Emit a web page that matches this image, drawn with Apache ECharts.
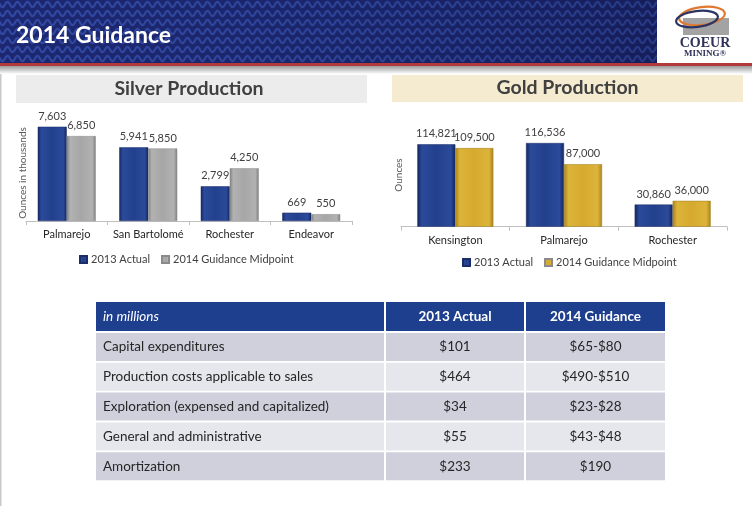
<!DOCTYPE html>
<html>
<head>
<meta charset="utf-8">
<script src="https://cdn.jsdelivr.net/npm/echarts@6/dist/echarts.min.js"></script>
<style>
html,body{margin:0;padding:0;background:#ffffff;}
#c{width:752px;height:506px;}
</style>
</head>
<body>
<div id="c"></div>
<script>
// ---- data ----
var pageTitle = '2014 Guidance';
var silverTitle = 'Silver Production';
var goldTitle = 'Gold Production';
var silverCats = ['Palmarejo', 'San Bartolomé', 'Rochester', 'Endeavor'];
var silver2013 = [7603, 5941, 2799, 669];
var silver2014 = [6850, 5850, 4250, 550];
var goldCats = ['Kensington', 'Palmarejo', 'Rochester'];
var gold2013 = [114821, 116536, 30860];
var gold2014 = [109500, 87000, 36000];
var seriesNames = ['2013 Actual', '2014 Guidance Midpoint'];
var silverAxisName = 'Ounces in thousands';
var goldAxisName = 'Ounces';
var tableHeader = ['in millions', '2013 Actual', '2014 Guidance'];
var tableItems = ['Capital expenditures', 'Production costs applicable to sales', 'Exploration (expensed and capitalized)', 'General and administrative', 'Amortization'];
var tableActual = ['$101', '$464', '$34', '$55', '$233'];
var tableGuidance = ['$65-$80', '$490-$510', '$23-$28', '$43-$48', '$190'];

// ---- styles ----
var FONT = 'Lato';
function hGrad(edge, mid, hi) {
  return new echarts.graphic.LinearGradient(0, 0, 1, 0, [
    {offset: 0, color: edge}, {offset: 0.12, color: hi}, {offset: 0.5, color: mid},
    {offset: 0.88, color: hi}, {offset: 1, color: edge}
  ]);
}
var blueFill = hGrad('#14265e', '#22408c', '#2b4a9a');
var greyFill = hGrad('#7f7f7f', '#a6a6a6', '#b2b2b2');
var goldFill = hGrad('#a9841c', '#d5aa2e', '#dcb43a');

// header pattern
var pat = document.createElement('canvas');
pat.width = 10; pat.height = 9;
var pc = pat.getContext('2d');
pc.fillStyle = '#1b2368'; pc.fillRect(0, 0, 10, 9);
pc.strokeStyle = '#3249a0'; pc.lineWidth = 2.2;
for (var row = -1; row <= 1; row++) {
  pc.beginPath();
  for (var x = -1; x <= 11; x += 0.5) {
    var y = row * 9 + 4.5 + 2.6 * Math.sin(2 * Math.PI * x / 10);
    if (x === -1) pc.moveTo(x, y); else pc.lineTo(x, y);
  }
  pc.stroke();
}

var fmt = function (p) { return p.value.toLocaleString('en-US'); };
var labelStyle = {show: true, position: 'top', distance: 5, formatter: fmt, fontSize: 11, color: '#404040', fontFamily: FONT};

function xAx(idx, cats, margin) {
  return {
    type: 'category', gridIndex: idx, data: cats,
    axisLine: {lineStyle: {color: '#bfbfbf', width: 1}},
    axisTick: {show: true, length: 4, lineStyle: {color: '#bfbfbf'}},
    axisLabel: {interval: 0, fontSize: 11, color: '#262626', fontFamily: FONT, margin: margin}
  };
}
function yAx(idx, max) {
  return {
    type: 'value', gridIndex: idx, min: 0, max: max,
    axisLine: {show: false}, axisTick: {show: false}, axisLabel: {show: false}, splitLine: {show: false}
  };
}

// table graphics
var tableEls = [];
var colX = [96, 386, 526];
var colW = [288, 138, 139];
var headTop = 302, headH = 29, rowTop = 333, rowPitch = 29.8, rowH = 28;
for (var c = 0; c < 3; c++) {
  tableEls.push({type: 'rect', shape: {x: colX[c], y: headTop, width: colW[c], height: headH}, style: {fill: '#1e3f8e'}});
  tableEls.push({type: 'text', x: c === 0 ? colX[c] + 7 : colX[c] + colW[c] / 2, y: headTop + headH / 2,
    style: {text: tableHeader[c], fill: '#ffffff', align: c === 0 ? 'left' : 'center', verticalAlign: 'middle',
      font: (c === 0 ? 'italic 13.5px ' : 'bold 13.5px ') + FONT}});
}
for (var r = 0; r < tableItems.length; r++) {
  var ry = rowTop + r * rowPitch;
  var fill = (r % 2 === 0) ? '#cfd0dc' : '#e6e7ed';
  var vals = [tableItems[r], tableActual[r], tableGuidance[r]];
  for (var c2 = 0; c2 < 3; c2++) {
    tableEls.push({type: 'rect', shape: {x: colX[c2], y: ry, width: colW[c2], height: rowH}, style: {fill: fill}});
    tableEls.push({type: 'text', x: c2 === 0 ? colX[c2] + 7 : colX[c2] + colW[c2] / 2, y: ry + rowH / 2,
      style: {text: vals[c2], fill: '#262626', align: c2 === 0 ? 'left' : 'center', verticalAlign: 'middle',
        font: '13.5px ' + FONT}});
  }
}

var legendCommon = {itemWidth: 7, itemHeight: 7, itemGap: 11, padding: 0, selectedMode: false, icon: 'rect',
  textStyle: {fontSize: 11, color: '#404040', fontFamily: FONT, padding: [0, 0, 0, -1]}};

var chart = echarts.init(document.getElementById('c'), null, {renderer: 'canvas'});
var option = {
  animation: false,
  backgroundColor: '#ffffff',
  grid: [
    {left: 26, top: 121.8, width: 326, height: 99.2, containLabel: false, outerBoundsMode: 'none'},
    {left: 401, top: 126.2, width: 326, height: 100.5, containLabel: false, outerBoundsMode: 'none'}
  ],
  xAxis: [xAx(0, silverCats, 8), xAx(1, goldCats, 8)],
  yAxis: [yAx(0, 8000), yAx(1, 140000)],
  legend: [
    Object.assign({left: 79, top: 254,
      data: [{name: seriesNames[0], itemStyle: {color: blueFill}}, {name: seriesNames[1], itemStyle: {color: greyFill}}]}, legendCommon),
    Object.assign({left: 462, top: 257,
      data: [{name: seriesNames[0], itemStyle: {color: blueFill}}, {name: seriesNames[1], itemStyle: {color: goldFill}}]}, legendCommon)
  ],
  series: [
    {name: seriesNames[0], type: 'bar', xAxisIndex: 0, yAxisIndex: 0, data: silver2013, barWidth: 29, barGap: '0%',
      itemStyle: {color: blueFill, borderColor: '#1a2d66', borderWidth: 0.5}, label: labelStyle},
    {name: seriesNames[1], type: 'bar', xAxisIndex: 0, yAxisIndex: 0, data: silver2014, barWidth: 29, barGap: '0%',
      itemStyle: {color: greyFill, borderColor: '#8a8a8a', borderWidth: 0.5}, label: labelStyle},
    {name: seriesNames[0], type: 'bar', xAxisIndex: 1, yAxisIndex: 1, data: gold2013, barWidth: 38, barGap: '0%',
      itemStyle: {color: blueFill, borderColor: '#1a2d66', borderWidth: 0.5}, label: labelStyle},
    {name: seriesNames[1], type: 'bar', xAxisIndex: 1, yAxisIndex: 1, data: gold2014, barWidth: 38, barGap: '0%',
      itemStyle: {color: goldFill, borderColor: '#9c7a18', borderWidth: 0.5}, label: labelStyle}
  ],
  graphic: [
    // header banner
    {type: 'rect', z: -1, shape: {x: 0, y: 0, width: 752, height: 63}, style: {fill: {image: pat, repeat: 'repeat'}}},
    {type: 'rect', z: -1, shape: {x: 0, y: 0, width: 752, height: 63},
      style: {fill: new echarts.graphic.LinearGradient(0, 0, 1, 0, [{offset: 0, color: 'rgba(40,70,170,0.12)'}, {offset: 1, color: 'rgba(5,8,40,0.3)'}])}},
    {type: 'rect', z: -1, shape: {x: 0, y: 63, width: 752, height: 3}, style: {fill: '#b23a3c'}},
    {type: 'rect', z: -1, shape: {x: 0, y: 66, width: 752, height: 8},
      style: {fill: new echarts.graphic.LinearGradient(0, 0, 0, 1, [{offset: 0, color: '#9a9a9a'}, {offset: 1, color: '#ffffff'}])}},
    {type: 'text', x: 16, y: 36, style: {text: pageTitle, fill: '#ffffff', font: 'bold 23px ' + FONT, verticalAlign: 'middle'}},
    // logo
    {type: 'rect', shape: {x: 657, y: 0, width: 95, height: 63}, style: {fill: '#ffffff'}},
    {type: 'rect', shape: {x: 683, y: 18, width: 46, height: 17}, style: {fill: '#a3a3a3'}},
    {type: 'ellipse', shape: {cx: 0, cy: 0, rx: 23, ry: 9}, x: 702, y: 16, rotation: 0.12,
      style: {fill: 'none', stroke: '#e07830', lineWidth: 2.2}},
    {type: 'ellipse', shape: {cx: 0, cy: 0, rx: 21, ry: 8}, x: 697, y: 19, rotation: 0.12,
      style: {fill: 'none', stroke: '#2c3562', lineWidth: 2.2}},
    {type: 'text', x: 705, y: 43, style: {text: 'COEUR', fill: '#2d3259', font: 'bold 14px "Liberation Serif"', align: 'center', verticalAlign: 'middle'}},
    {type: 'text', x: 705, y: 54, style: {text: 'MINING®', fill: '#2d3259', font: 'bold 9px "Liberation Serif"', align: 'center', verticalAlign: 'middle'}},
    // left border
    {type: 'rect', shape: {x: 0, y: 74, width: 1.5, height: 432}, style: {fill: '#c8c8c8'}},
    // section titles
    {type: 'rect', shape: {x: 16, y: 75, width: 351, height: 28}, style: {fill: '#ececec'}},
    {type: 'text', x: 189, y: 88.5, style: {text: silverTitle, fill: '#404040', font: 'bold 19.5px ' + FONT, align: 'center', verticalAlign: 'middle'}},
    {type: 'rect', shape: {x: 392, y: 75, width: 351, height: 27}, style: {fill: '#f4ebd1'}},
    {type: 'text', x: 567.5, y: 88, style: {text: goldTitle, fill: '#404040', font: 'bold 19.5px ' + FONT, align: 'center', verticalAlign: 'middle'}},
    // axis names
    {type: 'text', x: 22.7, y: 173, rotation: Math.PI / 2, style: {text: silverAxisName, fill: '#595959', font: '10px ' + FONT, align: 'center', verticalAlign: 'middle'}},
    {type: 'text', x: 398.7, y: 175, rotation: Math.PI / 2, style: {text: goldAxisName, fill: '#595959', font: '10px ' + FONT, align: 'center', verticalAlign: 'middle'}}
  ].concat(tableEls)
};
chart.setOption(option);
</script>
</body>
</html>
